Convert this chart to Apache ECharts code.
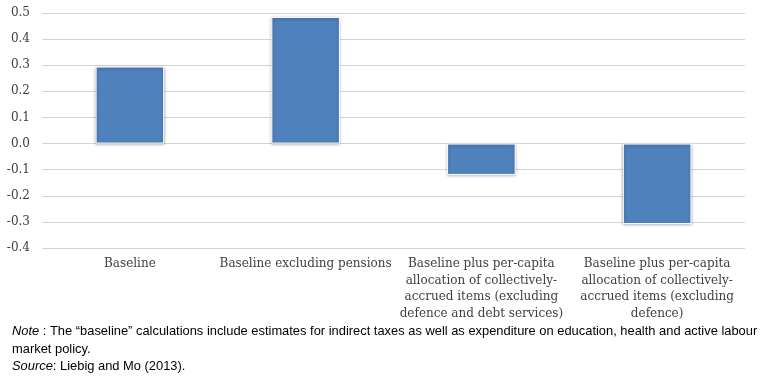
<!DOCTYPE html>
<html>
<head>
<meta charset="utf-8">
<script src="https://cdn.jsdelivr.net/npm/echarts@6/dist/echarts.min.js"></script>
<style>
  html, body { margin: 0; padding: 0; background: #fff; }
  #main { width: 782px; height: 376px; }
</style>
</head>
<body>
<div id="main"></div>
<script>
const categories = [
    'Baseline',
    'Baseline excluding pensions',
    'Baseline plus per-capita\nallocation of collectively-\naccrued items (excluding\ndefence and debt services)',
    'Baseline plus per-capita\nallocation of collectively-\naccrued items (excluding\ndefence)'
];
const values = [0.295, 0.485, -0.12, -0.308];

const chart = echarts.init(document.getElementById('main'), null, { renderer: 'canvas' });

const serif = 'DejaVu Serif';
const noteFont = '"Liberation Sans", sans-serif';

var option = {
    backgroundColor: '#fff',
    animation: false,
    grid: {
        left: 42,
        right: 37,
        top: 13,
        bottom: 128
    },
    xAxis: {
        type: 'category',
        data: categories,
        axisLine: { show: false },
        axisTick: { show: false },
        axisLabel: {
            interval: 0,
            margin: 8,
            color: '#404040',
            fontFamily: serif,
            fontSize: 12,
            lineHeight: 16.5
        }
    },
    yAxis: {
        type: 'value',
        min: -0.4,
        max: 0.5,
        interval: 0.1,
        axisLine: { show: false },
        axisTick: { show: false },
        axisLabel: {
            margin: 12,
            color: '#404040',
            fontFamily: serif,
            fontSize: 12,
            formatter: function (v) { return v.toFixed(1); }
        },
        splitLine: {
            lineStyle: { color: '#d4d4d4', width: 1 }
        }
    },
    series: [{
        type: 'bar',
        data: values,
        barWidth: '39%',
        itemStyle: {
            color: '#4f81bd',
            borderColor: '#ffffff',
            borderWidth: 1,
            shadowBlur: 3,
            shadowColor: 'rgba(0,0,0,0.35)',
            shadowOffsetY: 1
        }
    }],
    graphic: [{
        type: 'text',
        left: 12,
        top: 323,
        style: {
            text: '{i|Note} : The \u201cbaseline\u201d calculations include estimates for indirect taxes as well as expenditure on education, health and active labour\nmarket policy.\n{i|Source}: Liebig and Mo (2013).',
            font: '12.9px ' + noteFont,
            fill: '#000',
            lineHeight: 17.5,
            rich: {
                i: { fontStyle: 'italic', fontFamily: noteFont, fontSize: 12.9, fill: '#000' }
            }
        }
    }]
};

chart.setOption(option);
</script>
</body>
</html>
